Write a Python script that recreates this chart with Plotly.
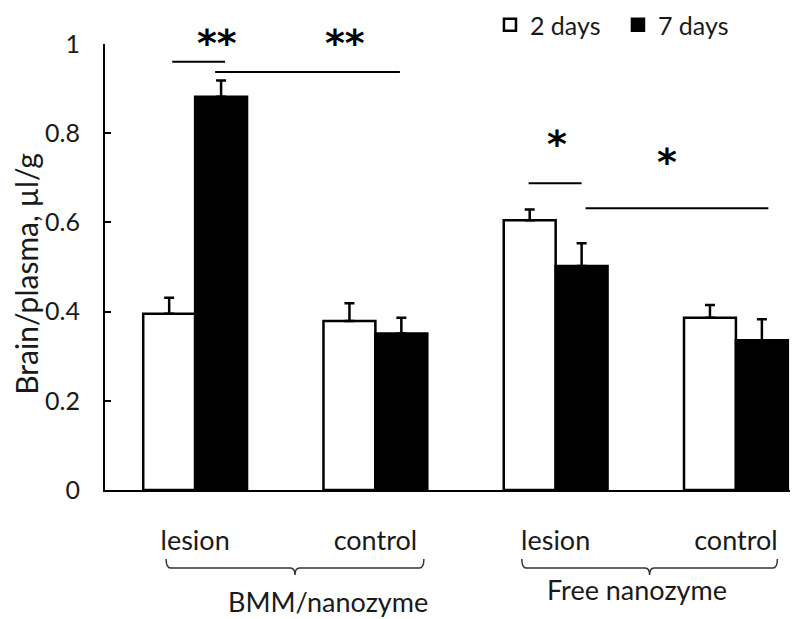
import plotly.graph_objects as go

# ---- data ----
categories = ["lesion", "control", "lesion", "control"]
cat_pos = [0, 1, 2, 3]
days2_values = [0.395, 0.379, 0.605, 0.386]
days2_errors = [0.036, 0.040, 0.024, 0.029]
days7_values = [0.882, 0.351, 0.502, 0.336]
days7_errors = [0.036, 0.035, 0.051, 0.047]
series_names = ["2 days", "7 days"]
y_tick_vals = [0, 0.2, 0.4, 0.6, 0.8, 1.0]
y_tick_text = ["0", "0.2", "0.4", "0.6", "0.8", "1"]
y_title = "Brain/plasma, µl/g"
group_names = ["BMM/nanozyme", "Free nanozyme"]
group_label_x = [0.737, 2.45]
group_label_y = [-0.249, -0.224]
brace_spans = [(-0.161, 1.269), (1.812, 3.230)]
# significance: (x0, x1, y) lines and (x, y, text) labels
sig_lines = [(-0.127, 0.166, 0.960), (0.111, 1.136, 0.937),
             (1.850, 2.144, 0.688), (2.166, 3.180, 0.632)]
sig_labels = [(0.122, 1.016, "**"), (0.831, 1.016, "**"),
              (2.006, 0.789, "*"), (2.615, 0.749, "*")]

FONT = "Lato"
TXT = "#1a1a1a"

fig = go.Figure()
fig.add_trace(go.Bar(
    x=cat_pos, y=days2_values, name=series_names[0],
    marker=dict(color="white", line=dict(color="black", width=2.5)),
    error_y=dict(type="data", symmetric=False, array=days2_errors,
                 arrayminus=[0] * 4, color="black", thickness=2.5, width=5),
))
fig.add_trace(go.Bar(
    x=cat_pos, y=days7_values, name=series_names[1],
    marker=dict(color="black", line=dict(color="black", width=2.5)),
    error_y=dict(type="data", symmetric=False, array=days7_errors,
                 arrayminus=[0] * 4, color="black", thickness=2.5, width=5),
))

shapes = []
for x0, x1, y in sig_lines:
    shapes.append(dict(type="line", xref="x", yref="y", x0=x0, x1=x1, y0=y, y1=y,
                       line=dict(color="black", width=2)))

y_top, y_line, y_tip = -0.1547, -0.1749, -0.1906
dx = 0.025
for x0, x1 in brace_spans:
    xm = (x0 + x1) / 2
    path = (f"M{x0},{y_top} Q{x0},{y_line} {x0+dx},{y_line} "
            f"L{xm-dx},{y_line} Q{xm},{y_line} {xm},{y_tip} "
            f"Q{xm},{y_line} {xm+dx},{y_line} "
            f"L{x1-dx},{y_line} Q{x1},{y_line} {x1},{y_top}")
    shapes.append(dict(type="path", xref="x", yref="paper", path=path,
                       line=dict(color="#333", width=1.5)))

annotations = []
for x, y, t in sig_labels:
    # y axis spans exactly [0, 1], so data y equals paper y
    annotations.append(dict(x=x, y=y, xref="x", yref="paper", text=t, showarrow=False,
                            font=dict(family="DejaVu Sans", size=38, color="black", weight="bold"),
                            xanchor="center", yanchor="middle", yshift=-6))
for name, gx, gy in zip(group_names, group_label_x, group_label_y):
    annotations.append(dict(x=gx, y=gy, xref="x", yref="paper", text=name, showarrow=False,
                            font=dict(family=FONT, size=27, color=TXT),
                            xanchor="center", yanchor="middle"))
# y-axis title as a rotated annotation
annotations.append(dict(x=-0.1153, y=0.485, xref="paper", yref="paper", text=y_title,
                        showarrow=False, textangle=-90,
                        font=dict(family=FONT, size=30, color=TXT),
                        xanchor="center", yanchor="middle"))

# page body has an 8px default margin, so the figure is 8px smaller
fig.update_layout(
    width=792, height=611,
    margin=dict(l=97, r=10, t=36, b=129, autoexpand=False),
    paper_bgcolor="white", plot_bgcolor="white",
    barmode="group", bargap=0.424, bargroupgap=0,
    font=dict(family=FONT, size=24, color=TXT),
    showlegend=True,
    legend=dict(orientation="h", x=0.562, y=0.972, xanchor="left", yanchor="middle",
                yref="container",
                font=dict(family=FONT, size=25, color=TXT),
                bgcolor="rgba(0,0,0,0)", itemwidth=30,
                entrywidth=83, entrywidthmode="pixels"),
    shapes=shapes, annotations=annotations,
)
fig.update_xaxes(range=[-0.5, 3.3], tickvals=cat_pos, ticktext=categories,
                 showline=True, linecolor="black", linewidth=2, ticks="",
                 showgrid=False, zeroline=False, ticklabelstandoff=26,
                 tickfont=dict(family=FONT, size=27, color=TXT))
fig.update_yaxes(range=[0, 1], tickvals=y_tick_vals, ticktext=y_tick_text,
                 showline=True, linecolor="black", linewidth=2, ticks="inside",
                 ticklen=6, tickwidth=2, tickcolor="black",
                 showgrid=False, zeroline=False, ticklabelstandoff=18,
                 tickfont=dict(family=FONT, size=25, color=TXT))

fig.write_html("out.html")
